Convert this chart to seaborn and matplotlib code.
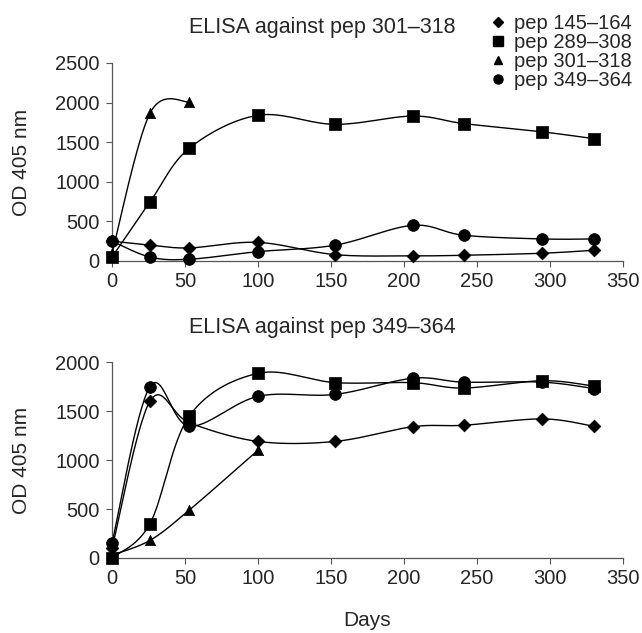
import numpy as np
import pandas as pd
import matplotlib
matplotlib.use("Agg")
import matplotlib.pyplot as plt
import seaborn as sns

days = [0, 26, 53, 100, 153, 206, 241, 295, 330]
series = ["pep 145\u2013164", "pep 289\u2013308", "pep 301\u2013318", "pep 349\u2013364"]
markers = {"pep 145\u2013164": "D", "pep 289\u2013308": "s", "pep 301\u2013318": "^", "pep 349\u2013364": "o"}
msizes = {"pep 145\u2013164": 42, "pep 289\u2013308": 75, "pep 301\u2013318": 55, "pep 349\u2013364": 72}

# ELISA against pep 301-318
top_145 = [250, 200, 165, 235, 80, 65, 72, 98, 135]
top_289 = [50, 745, 1425, 1840, 1725, 1830, 1735, 1630, 1545]
top_301 = [100, 1865, 2010]
top_349 = [250, 50, 22, 118, 200, 450, 325, 278, 278]

# ELISA against pep 349-364
bot_145 = [100, 1600, 1380, 1190, 1190, 1340, 1355, 1420, 1345]
bot_289 = [0, 350, 1450, 1885, 1790, 1790, 1735, 1810, 1755]
bot_301 = [30, 180, 490, 1100]
bot_349 = [155, 1750, 1345, 1650, 1670, 1835, 1795, 1795, 1730]

panels = [
    ("ELISA against pep 301\u2013318", 2500, [top_145, top_289, top_301, top_349]),
    ("ELISA against pep 349\u2013364", 2000, [bot_145, bot_289, bot_301, bot_349]),
]


def smooth(xs, ys, ymax, n=30):
    xs = np.asarray(xs, float)
    ys = np.asarray(ys, float)
    sx = 511.0 / 350.0
    sy = 197.0 / ymax
    P = np.column_stack([xs * sx, ys * sy])
    m = len(P)
    if m < 2:
        return xs, ys
    ext = np.vstack([P[0], P, P[-1]])
    out = []
    for i in range(m - 1):
        p0, p1, p2, p3 = ext[i], ext[i + 1], ext[i + 2], ext[i + 3]
        c1 = p1 + (p2 - p0) / 6.0
        c2 = p2 - (p3 - p1) / 6.0
        t = np.linspace(0, 1, n, endpoint=(i == m - 2))[:, None]
        b = ((1 - t) ** 3) * p1 + 3 * ((1 - t) ** 2) * t * c1 + 3 * (1 - t) * t ** 2 * c2 + t ** 3 * p2
        out.append(b)
    B = np.vstack(out)
    return B[:, 0] / sx, B[:, 1] / sy


sns.set_theme(style="ticks")
plt.rcParams["font.family"] = ["Liberation Sans", "DejaVu Sans"]

fig = plt.figure(figsize=(6.42, 6.33), dpi=100)
ax_top = fig.add_axes([0.1745, 0.5877, 0.7955, 0.3128])
ax_bot = fig.add_axes([0.1745, 0.1185, 0.7955, 0.3095])

for ax, (title, ymax, vals) in zip([ax_top, ax_bot], panels):
    line_rows = []
    pt_rows = []
    for name, v in zip(series, vals):
        xs = days[: len(v)]
        sxv, syv = smooth(xs, v, ymax)
        for a, b in zip(sxv, syv):
            line_rows.append({"day": a, "od": b, "series": name})
        for a, b in zip(xs, v):
            pt_rows.append({"day": a, "od": b, "series": name})
    ldf = pd.DataFrame(line_rows)
    pdf = pd.DataFrame(pt_rows)
    for name in series:
        sub = ldf[ldf["series"] == name]
        sns.lineplot(data=sub, x="day", y="od", ax=ax, color="black", lw=1.0,
                     sort=False, estimator=None, legend=False)
    for name in series:
        sub = pdf[pdf["series"] == name]
        sns.scatterplot(data=sub, x="day", y="od", ax=ax, marker=markers[name],
                        s=msizes[name], color="black", edgecolor="black",
                        linewidth=0.5, legend=False, zorder=5, clip_on=False)
    ax.set_xlim(0, 350)
    ax.set_ylim(0, ymax)
    ax.set_xticks(range(0, 351, 50))
    ax.set_yticks(range(0, ymax + 1, 500))
    ax.tick_params(labelsize=14.5, length=4, width=0.8, color="#555555", pad=4)
    ax.tick_params(axis="y", pad=5)
    for sp in ["left", "bottom"]:
        ax.spines[sp].set_linewidth(0.9)
        ax.spines[sp].set_color("#555555")
    sns.despine(ax=ax)
    ax.set_xlabel("")
    ax.set_ylabel("")

# y labels
fig.text(22 / 642, 1 - 162 / 633, "OD 405 nm", rotation=90, ha="center", va="center", fontsize=15)
fig.text(22 / 642, 1 - 460 / 633, "OD 405 nm", rotation=90, ha="center", va="center", fontsize=15)

fig.text(322 / 642, 1 - 28 / 633, panels[0][0], ha="center", va="center", fontsize=15.5)
fig.text(322 / 642, 1 - 327 / 633, panels[1][0], ha="center", va="center", fontsize=15.5)
fig.text(367 / 642, 1 - 621 / 633, "Days", ha="center", va="center", fontsize=15)

handles = [plt.Line2D([], [], marker=markers[n], color="black", ls="none",
                      markersize={"D": 5, "s": 6.5, "^": 6, "o": 6.5}[markers[n]]) for n in series]
fig.legend(handles, series, loc="upper left", bbox_to_anchor=(478 / 642, 1.0),
           frameon=False, fontsize=14.5, handlelength=0.6, handletextpad=0.5,
           labelspacing=0.0, borderaxespad=0.3, borderpad=0.4)

fig.savefig("out.png", dpi=100)
